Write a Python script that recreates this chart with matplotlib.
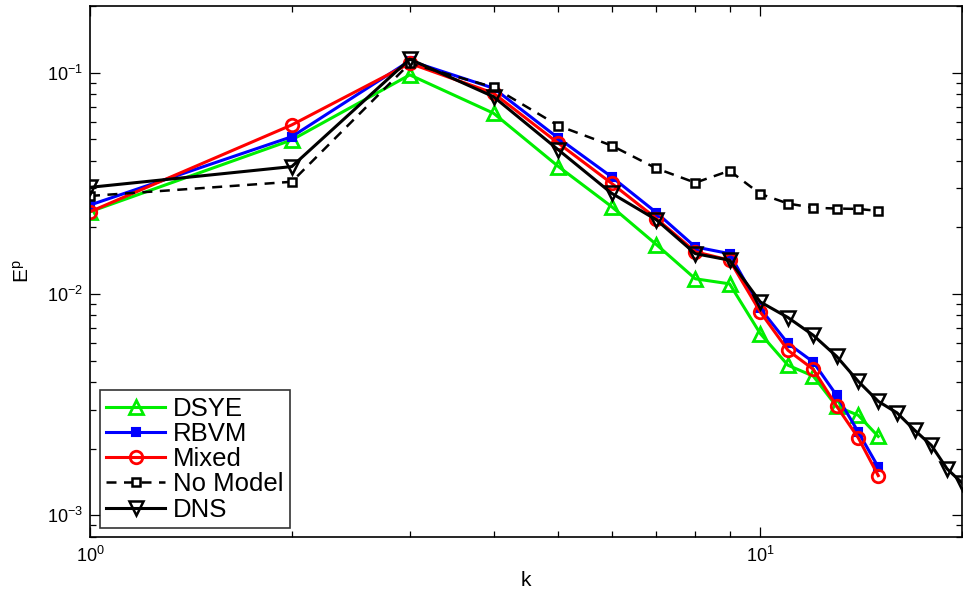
import matplotlib
matplotlib.use("Agg")
import matplotlib.pyplot as plt
from matplotlib.ticker import LogLocator, NullFormatter

plt.rcParams['font.family'] = ['Liberation Sans', 'DejaVu Sans']
plt.rcParams['mathtext.fontset'] = 'custom'
plt.rcParams['mathtext.rm'] = 'Liberation Sans'
plt.rcParams['mathtext.it'] = 'Liberation Sans:italic'
plt.rcParams['mathtext.bf'] = 'Liberation Sans:bold'

# Wavenumbers
k15 = list(range(1, 16))
k20 = list(range(1, 21))

# Energy spectra E^p(k)
dsye = [0.0235, 0.0496, 0.0976, 0.0655, 0.0376, 0.0248, 0.0167, 0.0117,
        0.0111, 0.00662, 0.00476, 0.00425, 0.0031, 0.00283, 0.00227]
rbvm = [0.0252, 0.0513, 0.113, 0.085, 0.0505, 0.0338, 0.0233, 0.0163,
        0.0152, 0.0086, 0.00597, 0.00492, 0.00348, 0.00238, 0.00165]
mixed = [0.0235, 0.058, 0.110, 0.0807, 0.0479, 0.0316, 0.0219, 0.0155,
         0.0142, 0.00829, 0.00556, 0.00456, 0.00311, 0.00224, 0.00151]
no_model = [0.0277, 0.0321, 0.110, 0.0859, 0.0575, 0.0468, 0.0369, 0.0318,
            0.0360, 0.0283, 0.0256, 0.0245, 0.0243, 0.0242, 0.0237]
dns = [0.0303, 0.0376, 0.115, 0.0778, 0.0447, 0.0285, 0.0216, 0.0152,
       0.0142, 0.0092, 0.00782, 0.0065, 0.00522, 0.00403, 0.00327, 0.0029,
       0.00242, 0.00207, 0.00162, 0.0014]

fig = plt.figure(figsize=(9.63, 5.93), dpi=100)
ax = fig.add_axes([90 / 963, 0.095, 872 / 963, 0.895])

ax.plot(k15, dsye, color='#00ee00', lw=2.2, marker='^', ms=10,
        mfc='none', mec='#00ee00', mew=2, label='DSYE')
ax.plot(k15, rbvm, color='#0000ff', lw=2.2, marker='s', ms=6,
        mfc='#0000ff', mec='#0000ff', mew=1.5, label='RBVM')
ax.plot(k15, mixed, color='#ff0000', lw=2.2, marker='o', ms=9,
        mfc='none', mec='#ff0000', mew=2, label='Mixed')
ax.plot(k15, no_model, color='black', lw=1.8, ls=(0, (4, 3)), marker='s',
        ms=6, mfc='white', mec='black', mew=1.8, label='No Model')
ax.plot(k20, dns, color='black', lw=2.2, marker='v', ms=10,
        mfc='none', mec='black', mew=1.8, label='DNS')

ax.set_xscale('log')
ax.set_yscale('log')
ax.set_xlim(1, 20)
ax.set_ylim(8e-4, 0.2)

ax.xaxis.set_major_locator(LogLocator(base=10))
ax.yaxis.set_major_locator(LogLocator(base=10))
ax.xaxis.set_minor_locator(LogLocator(base=10, subs=range(2, 10)))
ax.yaxis.set_minor_locator(LogLocator(base=10, subs=range(2, 10)))
ax.xaxis.set_minor_formatter(NullFormatter())
ax.yaxis.set_minor_formatter(NullFormatter())

ax.tick_params(which='both', direction='in', top=True, right=True,
               labelsize=13, width=0.9)
ax.tick_params(which='major', length=7, pad=5)
ax.tick_params(axis='x', which='major', pad=7)
ax.tick_params(which='minor', length=4)
for s in ax.spines.values():
    s.set_linewidth(1.2)

ax.set_xlabel('k', fontsize=15, labelpad=3)
ax.set_ylabel(r'E$^\mathregular{p}$', fontsize=15, labelpad=10)

leg = ax.legend(loc='lower left', bbox_to_anchor=(0.011, 0.016),
                fontsize=18.5, frameon=True, fancybox=False,
                edgecolor='black', handlelength=2.3, handletextpad=0.3,
                labelspacing=0.05, borderpad=0.25, borderaxespad=0)
leg.get_frame().set_linewidth(1.2)

fig.savefig('out.png', dpi=100)
